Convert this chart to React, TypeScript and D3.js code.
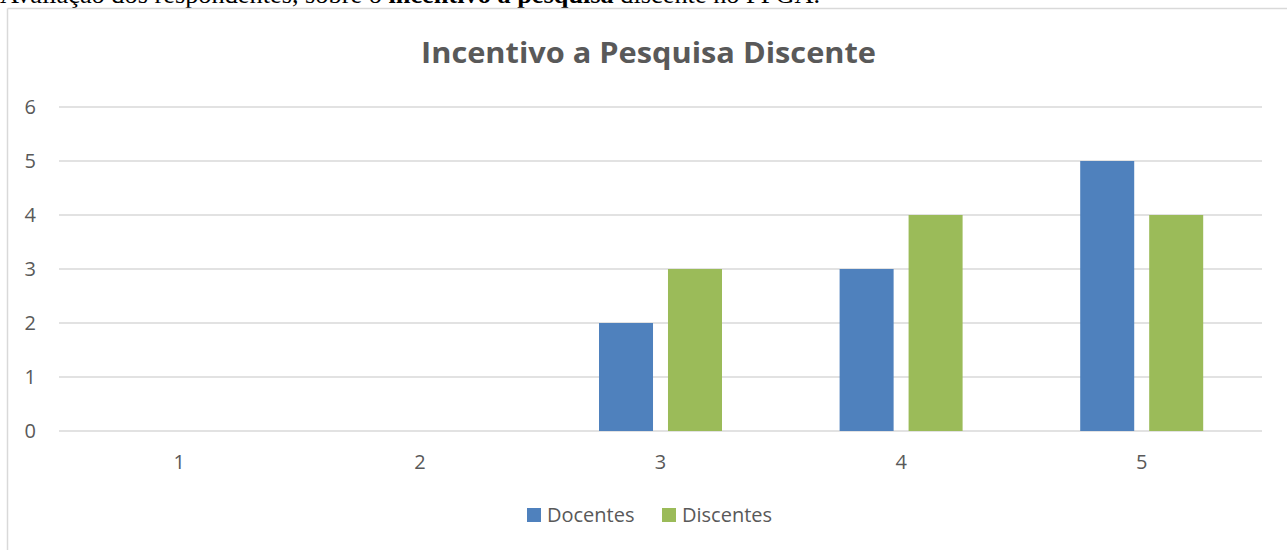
import React from "react";
import * as d3 from "d3";

const categories = ["1", "2", "3", "4", "5"];
const seriesNames = ["Docentes", "Discentes"];
const docentes = [0, 0, 2, 3, 5];
const discentes = [0, 0, 3, 4, 4];
const yTicks = [0, 1, 2, 3, 4, 5, 6];
const colors = ["#4F81BD", "#9BBB59"];
const title = "Incentivo a Pesquisa Discente";

export default function App() {
  const W = 1287, H = 550;
  const left = 59, right = 1262, top = 107, bottom = 431;
  const x = d3.scaleBand<string>().domain(categories).range([left, right]).padding(0);
  const bw = x.bandwidth();
  const xi = d3.scaleBand<string>().domain(seriesNames).range([bw * 0.2444, bw * 0.7556]).paddingInner(0.217);
  const y = d3.scaleLinear().domain([0, 6]).range([bottom, top]);
  const values = [docentes, discentes];
  const font = "'Open Sans', sans-serif";
  const fs = 20;
  return (
    <svg width={W} height={H} style={{ position: "absolute", left: 0, top: 0, background: "#fff" }}>
      <text x={0} y={3} fontFamily="'Liberation Serif', serif" fontSize={25} fill="#000" textLength={820} lengthAdjust="spacingAndGlyphs">
        <tspan>Avaliação dos respondentes, sobre o </tspan>
        <tspan fontWeight="bold">incentivo à pesquisa</tspan>
        <tspan> discente no PPGA.</tspan>
      </text>
      <line x1={7.5} y1={8.5} x2={W} y2={8.5} stroke="#d9d9d9" strokeWidth={1.5} />
      <line x1={7.5} y1={8.5} x2={7.5} y2={H} stroke="#d9d9d9" strokeWidth={1.5} />
      <text x={648.5} y={63} textAnchor="middle" fontFamily={font} fontWeight="bold" fontSize={28} fill="#595959" textLength={455} lengthAdjust="spacingAndGlyphs">{title}</text>
      {yTicks.map((t) => (
        <g key={t}>
          <line x1={left} x2={right} y1={y(t)} y2={y(t)} stroke="#d9d9d9" strokeWidth={1.5} />
          <text x={36} y={y(t)} dy="0.35em" textAnchor="end" fontFamily={font} fontSize={fs} fill="#595959">{t}</text>
        </g>
      ))}
      {categories.map((c, i) => (
        <g key={c}>
          {seriesNames.map((s, j) => (
            values[j][i] > 0 ? (
              <rect key={s} x={(x(c) as number) + (xi(s) as number)} width={xi.bandwidth()}
                y={y(values[j][i])} height={y(0) - y(values[j][i])} fill={colors[j]} />
            ) : null
          ))}
          <text x={(x(c) as number) + bw / 2} y={462} dy="0.35em" textAnchor="middle" fontFamily={font} fontSize={fs} fill="#595959">{c}</text>
        </g>
      ))}
      <g>
        <rect x={527} y={508} width={14} height={14} fill={colors[0]} />
        <text x={547} y={515} dy="0.35em" fontFamily={font} fontSize={fs} fill="#595959">{seriesNames[0]}</text>
        <rect x={662} y={508} width={14} height={14} fill={colors[1]} />
        <text x={682} y={515} dy="0.35em" fontFamily={font} fontSize={fs} fill="#595959">{seriesNames[1]}</text>
      </g>
    </svg>
  );
}
